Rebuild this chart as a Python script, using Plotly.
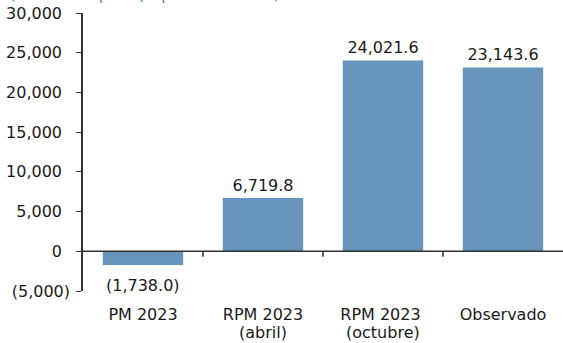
import plotly.graph_objects as go

categories = ["PM 2023", "RPM 2023", "RPM 2023 ", "Observado"]
subtitles = ["", "(abril)", "(octubre)", ""]
values = [-1738.0, 6719.8, 24021.6, 23143.6]
tick_vals = [-5000, 0, 5000, 10000, 15000, 20000, 25000, 30000]
tick_text = ["(5,000)", "0", "5,000", "10,000", "15,000", "20,000", "25,000", "30,000"]

def fmt(v):
    s = f"{abs(v):,.1f}"
    return f"({s})" if v < 0 else s

labels = [fmt(v) for v in values]
bar_text = [lab if v >= 0 else "" for lab, v in zip(labels, values)]
# Excel-style alignment: positive numbers leave room for the closing parenthesis
tick_disp = [t if t.startswith("(") else t + "\u2002" for t in tick_text]
FONT = "DejaVu Sans"
TXT = "#1a1a1a"

fig = go.Figure(go.Bar(
    x=categories, y=values, text=bar_text, textposition="outside",
    textfont=dict(family=FONT, size=16, color=TXT),
    marker=dict(color="#6794BA", line=dict(width=0)),
    cliponaxis=False,
))

fig.update_layout(
    width=563, height=343,
    margin=dict(l=83, r=0, t=13, b=52, autoexpand=False),
    paper_bgcolor="white", plot_bgcolor="white",
    bargap=0.33, showlegend=False,
    font=dict(family=FONT, size=16, color=TXT),
    xaxis=dict(showline=False, ticks="", showgrid=False, zeroline=False, automargin=False,
               tickfont=dict(family=FONT, size=16, color=TXT), ticklabelstandoff=12),
    yaxis=dict(range=[-5000, 30000], tickvals=tick_vals, ticktext=tick_disp, automargin=False,
               showline=True, linecolor="#333333", linewidth=1.5, ticks="outside",
               ticklen=5, tickcolor="#333333", showgrid=False, zeroline=False,
               ticklabelstandoff=3,
               tickfont=dict(family=FONT, size=16, color=TXT)),
)

# negative value labels sit a little further below their bars
for cat, v, lab in zip(categories, values, labels):
    if v < 0:
        fig.add_annotation(text=lab, x=cat, y=v, xref="x", yref="y", yanchor="top",
                           yshift=-9, showarrow=False,
                           font=dict(family=FONT, size=16, color=TXT))

# horizontal axis at zero with category separators
fig.add_shape(type="line", xref="paper", yref="y", x0=0, x1=1, y0=0, y1=0,
              line=dict(color="#333333", width=1.5))
for i in range(1, len(categories)):
    fig.add_shape(type="line", xref="x", yref="y", x0=i - 0.5, x1=i - 0.5, y0=0, y1=-700,
                  line=dict(color="#333333", width=1.5))

for cat, sub in zip(categories, subtitles):
    if sub:
        fig.add_annotation(text=sub, x=cat, xref="x", y=0, yref="paper", yanchor="top",
                           yshift=-30, showarrow=False,
                           font=dict(family=FONT, size=16, color=TXT))

fig.add_annotation(text="(Millones de pesos, a precios de 2023)", xref="paper", yref="paper",
                   x=-0.156, y=1.0, xanchor="left", yanchor="bottom", yshift=8, showarrow=False,
                   font=dict(family=FONT, size=14, color="#2E75B6"))

fig.write_html("out.html", config={"displayModeBar": False},
               post_script="document.body.style.margin='0';")
